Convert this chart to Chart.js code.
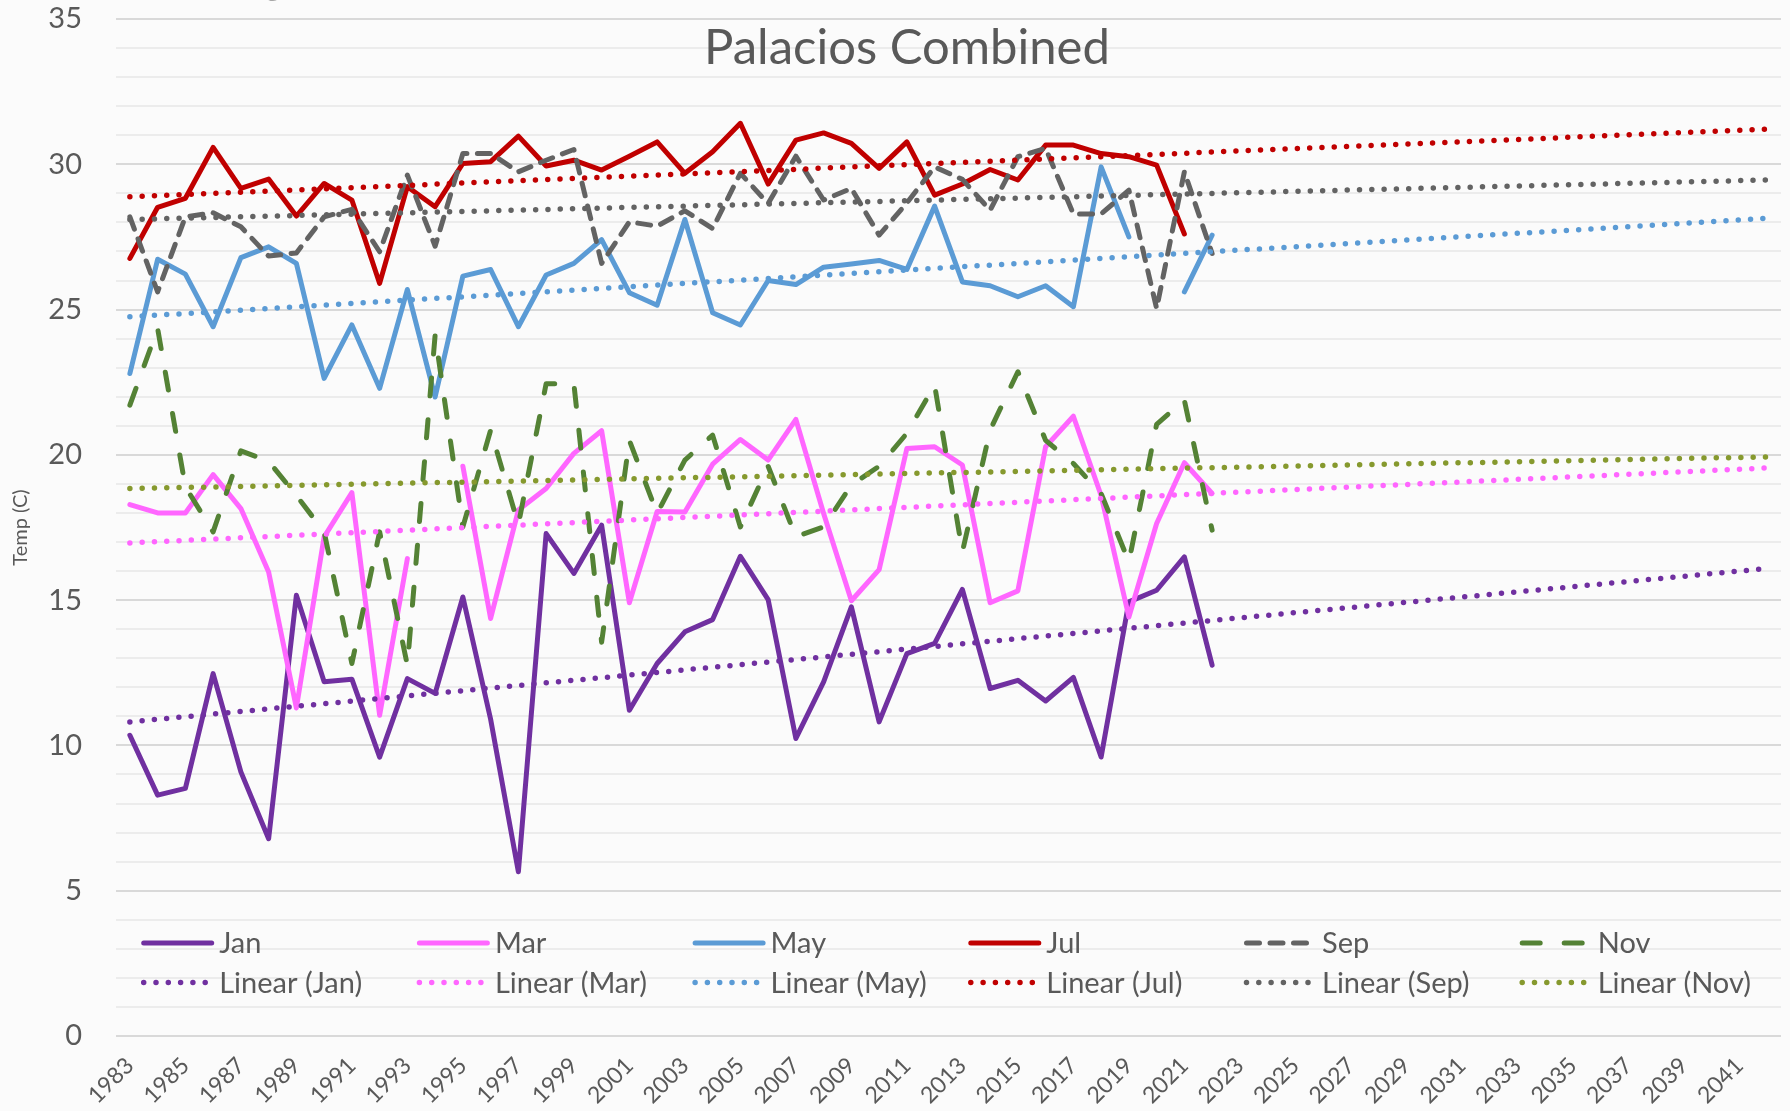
<!DOCTYPE html>
<html>
<head>
<meta charset="utf-8">
<script src="https://cdn.jsdelivr.net/npm/chart.js@4.4.1/dist/chart.umd.min.js"></script>
<style>
  html, body { margin: 0; padding: 0; background: #fbfbfb; overflow: hidden; }
  #wrap { width: 1790px; height: 1111px; position: relative; }
  canvas { display: block; }
</style>
</head>
<body>
<div id="wrap"><canvas id="c" width="1790" height="1111"></canvas></div>
<script>
// ---- data ----
const years = ['1983','1984','1985','1986','1987','1988','1989','1990','1991','1992',
  '1993','1994','1995','1996','1997','1998','1999','2000','2001','2002',
  '2003','2004','2005','2006','2007','2008','2009','2010','2011','2012',
  '2013','2014','2015','2016','2017','2018','2019','2020','2021','2022',
  '2023','2024','2025','2026','2027','2028','2029','2030','2031','2032',
  '2033','2034','2035','2036','2037','2038','2039','2040','2041','2042'];

const jan = [10.35, 8.29, 8.52, 12.47, 9.09, 6.79, 15.17, 12.19, 12.28, 9.6,
  12.3, 11.79, 15.11, 10.9, 5.65, 17.29, 15.92, 17.58, 11.21, 12.82,
  13.91, 14.33, 16.51, 15.02, 10.24, 12.19, 14.77, 10.81, 13.16, 13.51,
  15.37, 11.96, 12.24, 11.53, 12.34, 9.6, 14.94, 15.34, 16.49, 12.76];
const mar = [18.29, 18.0, 18.0, 19.32, 18.15, 15.97, 11.29, 17.18, 18.7, 11.04,
  16.43, null, 19.61, 14.37, 18.1, 18.84, 20.05, 20.83, 14.91, 18.05,
  18.03, 19.68, 20.53, 19.82, 21.22, 17.98, 14.98, 16.05, 20.22, 20.28,
  19.65, 14.91, 15.32, 20.28, 21.33, 18.6, 14.42, 17.64, 19.73, 18.67];
const may = [22.8, 26.73, 26.22, 24.41, 26.79, 27.16, 26.59, 22.63, 24.47, 22.29,
  25.69, 21.99, 26.15, 26.38, 24.41, 26.19, 26.59, 27.41, 25.58, 25.15,
  28.1, 24.89, 24.47, 26.0, 25.86, 26.46, 26.57, 26.69, 26.38, 28.56,
  25.95, 25.82, 25.44, 25.82, 25.1, 29.91, 27.5, null, 25.61, 27.56];
const jul = [26.76, 28.52, 28.83, 30.58, 29.17, 29.49, 28.22, 29.34, 28.77, 25.9,
  29.23, 28.54, 30.03, 30.09, 30.97, 29.94, 30.14, 29.8, 30.28, 30.77,
  29.69, 30.43, 31.41, 29.32, 30.83, 31.08, 30.72, 29.86, 30.77, 28.94,
  29.32, 29.82, 29.46, 30.66, 30.66, 30.37, 30.26, 29.97, 27.6, null];
const sep = [28.19, 25.61, 28.19, 28.33, 27.85, 26.84, 26.95, 28.19, 28.45, 26.99,
  29.63, 27.18, 30.37, 30.37, 29.74, 30.14, 30.51, 26.59, 28.02, 27.87,
  28.4, 27.79, 29.69, 28.65, 30.28, 28.77, 29.17, 27.56, 28.67, 29.91,
  29.48, 28.42, 30.26, 30.55, 28.29, 28.29, 29.11, 25.04, 29.74, 26.93];
const nov = [21.71, 24.35, 18.9, 17.35, 20.14, 19.78, 18.6, 17.35, 12.82, 17.35,
  12.76, 24.12, 17.52, 20.85, 17.6, 22.45, 22.45, 13.55, 20.5, 17.98,
  19.82, 20.68, 17.52, 19.61, 17.18, 17.52, 18.96, 19.61, 20.74, 22.4,
  16.66, 20.85, 22.86, 20.5, 19.7, 18.67, 16.32, 21.05, 21.88, 17.41];

// trendline end values (first year 1983, last year 2042)
const trendJan = [10.81, 16.09];
const trendMar = [16.97, 19.55];
const trendMay = [24.75, 28.14];
const trendJul = [28.88, 31.21];
const trendSep = [28.10, 29.46];
const trendNov = [18.84, 19.93];

const seriesNames = ['Jan', 'Mar', 'May', 'Jul', 'Sep', 'Nov'];
const trendNames = ['Linear (Jan)', 'Linear (Mar)', 'Linear (May)', 'Linear (Jul)', 'Linear (Sep)', 'Linear (Nov)'];
const titleLines = ['Average Monthly Air Temperature at Seadrift, Port Lavaca, Bay City, and', 'Palacios Combined'];
const yTitle = 'Temp (C)';

// ---- build ----
function endpoints(pair) {
  const arr = years.map(() => null);
  arr[0] = pair[0];
  arr[years.length - 1] = pair[1];
  return arr;
}

const TXT = '#595959';
const FONT = 'Lato, "Open Sans", sans-serif';
const W = 5;

const seriesStyle = [
  { color: '#7030A0', dash: [] },
  { color: '#FF66FF', dash: [] },
  { color: '#5B9BD5', dash: [] },
  { color: '#C00000', dash: [] },
  { color: '#636363', dash: [13, 10.5] },
  { color: '#548235', dash: [18, 24] }
];
const trendColors = ['#7030A0', '#FF66FF', '#5B9BD5', '#C00000', '#636363', '#86992E'];

const seriesData = [jan, mar, may, jul, sep, nov];
const trendData = [trendJan, trendMar, trendMay, trendJul, trendSep, trendNov];

const datasets = [];
seriesNames.forEach((n, i) => {
  datasets.push({
    label: n,
    data: seriesData[i],
    borderColor: seriesStyle[i].color,
    backgroundColor: seriesStyle[i].color,
    borderWidth: W,
    borderDash: seriesStyle[i].dash,
    borderCapStyle: 'round',
    borderJoinStyle: 'round',
    pointRadius: 0,
    tension: 0,
    spanGaps: false,
    fill: false,
    order: 20 - i
  });
});
trendNames.forEach((n, i) => {
  datasets.push({
    label: n,
    data: endpoints(trendData[i]),
    borderColor: trendColors[i],
    backgroundColor: trendColors[i],
    borderWidth: 5.5,
    borderDash: [0, 12.3],
    borderCapStyle: 'round',
    pointRadius: 0,
    tension: 0,
    spanGaps: true,
    fill: false,
    order: 10 - i
  });
});

const bgPlugin = {
  id: 'bg',
  beforeDraw(chart) {
    const ctx = chart.ctx;
    ctx.save();
    ctx.fillStyle = '#fbfbfb';
    ctx.fillRect(0, 0, chart.width, chart.height);
    ctx.restore();
  }
};

const legendPlugin = {
  id: 'insideLegend',
  afterDatasetsDraw(chart) {
    const ctx = chart.ctx;
    const ca = chart.chartArea;
    ctx.save();
    ctx.font = '29px ' + FONT;
    ctx.textBaseline = 'middle';
    ctx.textAlign = 'left';
    chart.data.datasets.forEach((ds, i) => {
      const col = i % 6, row = Math.floor(i / 6);
      const x0 = ca.left + 25.7 + col * 275.7;
      const y = ca.bottom - 93 + row * 39.5;
      ctx.save();
      ctx.strokeStyle = ds.borderColor;
      ctx.lineWidth = ds.borderWidth;
      ctx.lineCap = 'round';
      ctx.setLineDash(ds.borderDash || []);
      ctx.beginPath();
      ctx.moveTo(x0 + 2, y);
      ctx.lineTo(x0 + 70, y);
      ctx.stroke();
      ctx.restore();
      ctx.fillStyle = TXT;
      ctx.fillText(ds.label, x0 + 77.5, y + 1);
    });
    ctx.restore();
  }
};

const titlePlugin = {
  id: 'overlayTitle',
  afterDraw(chart) {
    const ctx = chart.ctx;
    ctx.save();
    ctx.font = '49px ' + FONT;
    ctx.fillStyle = TXT;
    ctx.textAlign = 'center';
    ctx.textBaseline = 'middle';
    const cx = chart.width / 2 + 12;
    ctx.fillText(titleLines[0], cx, -24);
    ctx.fillText(titleLines[1], cx, 48);
    ctx.restore();
  }
};

new Chart(document.getElementById('c'), {
  type: 'line',
  data: { labels: years, datasets: datasets },
  options: {
    responsive: false,
    animation: false,
    devicePixelRatio: 1,
    layout: { padding: { left: 0, right: 9, top: 19, bottom: 0 } },
    plugins: {
      legend: { display: false },
      title: { display: false },
      tooltip: { enabled: false }
    },
    scales: {
      x: {
        type: 'category',
        offset: true,
        grid: { display: false, drawTicks: false },
        border: { display: false },
        ticks: {
          autoSkip: false,
          minRotation: 45,
          maxRotation: 45,
          padding: 16,
          color: TXT,
          font: { family: FONT, size: 23 },
          callback: function (v, i) { return i % 2 === 0 ? this.getLabelForValue(v) : ''; }
        },
        afterFit: (s) => { s.height = 75; s.paddingLeft = 0; s.paddingRight = 0; }
      },
      y: {
        min: 0,
        max: 35,
        border: { display: false },
        grid: {
          drawTicks: false,
          color: (c) => (c.tick && c.tick.value % 5 === 0) ? '#d9d9d9' : '#ececec',
          lineWidth: 2
        },
        ticks: {
          stepSize: 1,
          autoSkip: false,
          padding: 34,
          color: TXT,
          font: { family: FONT, size: 29 },
          callback: (v) => (v % 5 === 0 ? v : '')
        },
        title: {
          display: true,
          text: yTitle,
          color: TXT,
          font: { family: FONT, size: 20 },
          padding: { top: 9, bottom: 0 }
        },
        afterFit: (s) => { s.width = 116; s.paddingTop = 0; s.paddingBottom = 0; }
      }
    }
  },
  plugins: [bgPlugin, legendPlugin, titlePlugin]
});
</script>
</body>
</html>
